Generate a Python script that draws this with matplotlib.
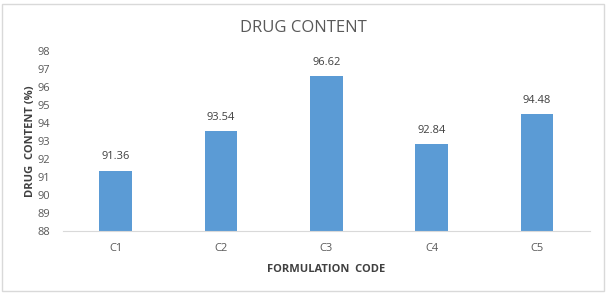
import matplotlib

matplotlib.use("Agg")
import matplotlib.pyplot as plt
from matplotlib.patches import Rectangle

codes = ["C1", "C2", "C3", "C4", "C5"]
drug_content = [91.36, 93.54, 96.62, 92.84, 94.48]
y_ticks = list(range(88, 99))

plt.rcParams["font.family"] = ["Open Sans", "DejaVu Sans"]
grey = "#595959"

fig = plt.figure(figsize=(6.08, 2.96), dpi=100)
ax = fig.add_axes([0.1036, 0.2196, 0.8664, 0.6081])

x = range(len(codes))
bars = ax.bar(x, [v - 88 for v in drug_content], bottom=88, width=0.31, color="#5b9bd5")
for bar, v in zip(bars, drug_content):
    ax.text(bar.get_x() + bar.get_width() / 2, v + 0.45, f"{v:.2f}",
            ha="center", va="bottom", fontsize=8, color="#404040")

ax.set_xlim(-0.5, len(codes) - 0.5)
ax.set_ylim(88, 98)
ax.set_yticks(y_ticks)
ax.set_xticks(list(x))
ax.set_xticklabels(codes)
ax.tick_params(axis="both", length=0, labelsize=8, colors=grey)
ax.tick_params(axis="y", pad=9)
ax.tick_params(axis="x", pad=9)
for s in ["top", "right", "left"]:
    ax.spines[s].set_visible(False)
ax.spines["bottom"].set_color("#d9d9d9")

ax.set_ylabel("DRUG  CONTENT (%)", fontsize=8, fontweight="bold", color="#404040", labelpad=1)
ax.set_xlabel("FORMULATION  CODE", fontsize=8, fontweight="bold", color="#404040", labelpad=7)
fig.text(0.499, 0.905, "DRUG CONTENT", ha="center", va="center", fontsize=12, color=grey)

fig.patches.append(Rectangle((0.004, 0.017), 0.99, 0.97, transform=fig.transFigure,
                             fill=False, edgecolor="#d9d9d9", linewidth=1))

fig.savefig("out.png", dpi=100)
